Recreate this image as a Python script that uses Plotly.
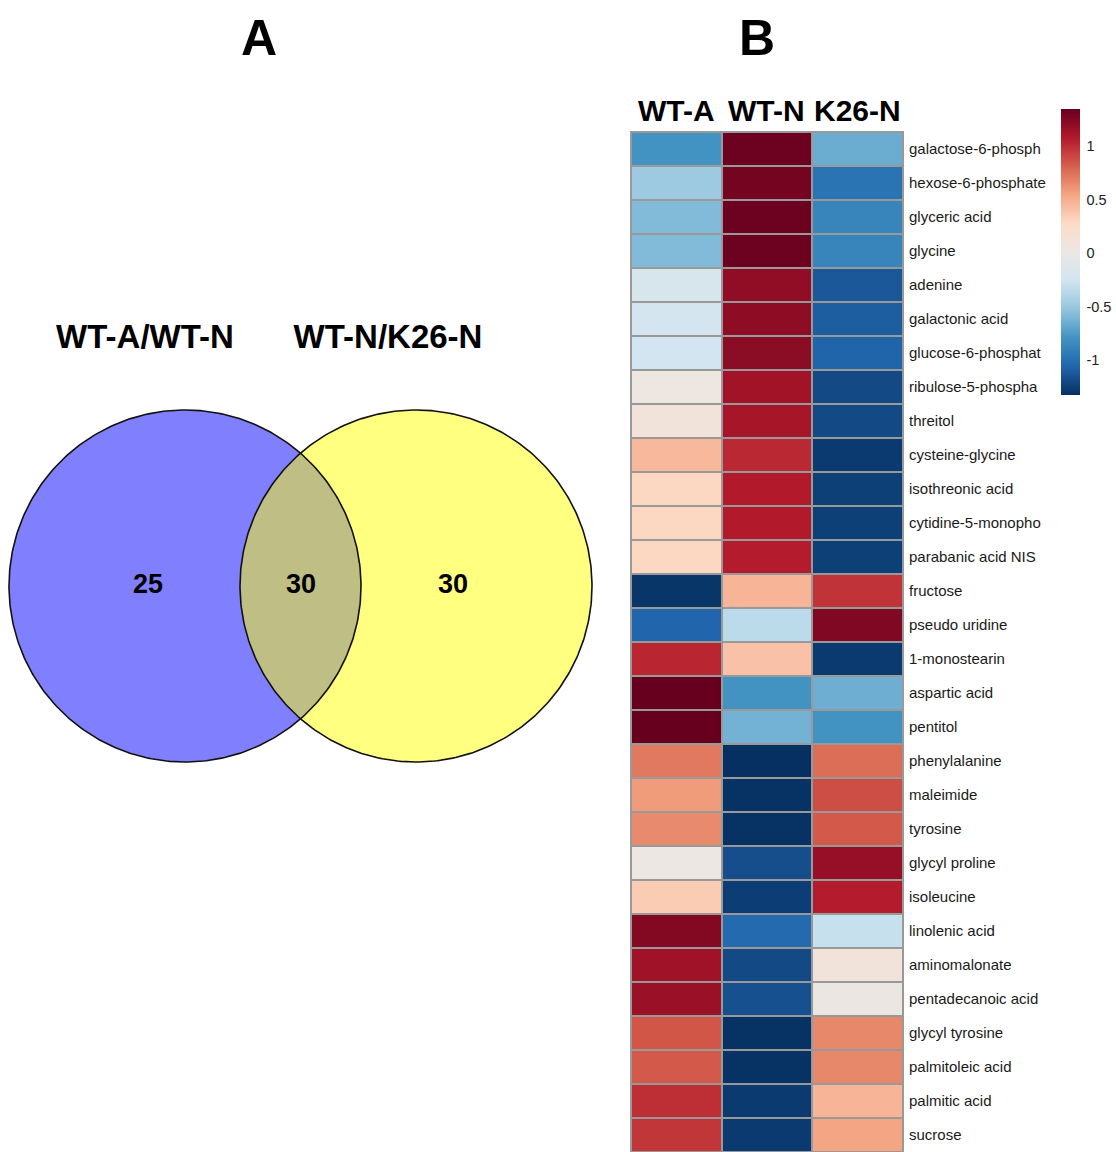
import numpy as np
import plotly.graph_objects as go

# ---------------- data ----------------
set_names = ["WT-A/WT-N", "WT-N/K26-N"]
count_left_only = 25
count_shared = 30
count_right_only = 30

samples = ["WT-A", "WT-N", "K26-N"]
metabolites = [
    "galactose-6-phosph", "hexose-6-phosphate", "glyceric acid", "glycine",
    "adenine", "galactonic acid", "glucose-6-phosphat", "ribulose-5-phospha",
    "threitol", "cysteine-glycine", "isothreonic acid", "cytidine-5-monopho",
    "parabanic acid NIS", "fructose", "pseudo uridine", "1-monostearin",
    "aspartic acid", "pentitol", "phenylalanine", "maleimide", "tyrosine",
    "glycyl proline", "isoleucine", "linolenic acid", "aminomalonate",
    "pentadecanoic acid", "glycyl tyrosine", "palmitoleic acid",
    "palmitic acid", "sucrose",
]
wt_a = [-0.80, -0.48, -0.58, -0.58, -0.20, -0.23, -0.25, 0.04, 0.10, 0.45,
        0.30, 0.30, 0.30, -1.30, -1.06, 1.03, 1.35, 1.35, 0.72, 0.58,
        0.65, 0.02, 0.35, 1.25, 1.15, 1.17, 0.85, 0.84, 1.00, 0.97]
wt_n = [1.33, 1.30, 1.33, 1.33, 1.20, 1.21, 1.22, 1.14, 1.12, 1.02,
        1.08, 1.08, 1.07, 0.47, -0.35, 0.40, -0.80, -0.63, -1.33, -1.32,
        -1.32, -1.18, -1.26, -1.04, -1.20, -1.17, -1.32, -1.32, -1.28, -1.28]
k26_n = [-0.66, -0.98, -0.88, -0.88, -1.13, -1.10, -1.07, -1.20, -1.20, -1.28,
         -1.25, -1.25, -1.25, 0.98, 1.26, -1.28, -0.65, -0.80, 0.76, 0.88,
         0.84, 1.18, 1.07, -0.30, 0.10, 0.03, 0.66, 0.66, 0.47, 0.54]

z_min, z_max = -1.33, 1.35
bar_ticks = [1, 0.5, 0, -0.5, -1]

# RdBu (11 classes), low values blue, high values red
rdbu = ["#053061", "#2166ac", "#4393c3", "#92c5de", "#d1e5f0", "#ebe7e4",
        "#fddbc7", "#f4a582", "#d6604d", "#b2182b", "#67001f"]
colorscale = [[i / (len(rdbu) - 1), c] for i, c in enumerate(rdbu)]

W, H = 1116, 1152
FONT = "Liberation Sans, Arial, sans-serif"

fig = go.Figure()

# ---------------- panel A: two-set Venn diagram ----------------
r = 176.0
c_left = (185.0, 586.0)
c_right = (416.0, 586.0)
theta = np.linspace(0, 2 * np.pi, 361)


def circle(c):
    return c[0] + r * np.cos(theta), c[1] + r * np.sin(theta)


d = c_right[0] - c_left[0]
phi = np.arccos(d / (2 * r))
arc_l = np.linspace(-phi, phi, 120)
arc_r = np.linspace(np.pi - phi, np.pi + phi, 120)
lens_x = np.concatenate([c_left[0] + r * np.cos(arc_l), c_right[0] + r * np.cos(arc_r)])
lens_y = np.concatenate([c_left[1] + r * np.sin(arc_l), c_right[1] + r * np.sin(arc_r)])

for c, col in [(c_left, "#8080ff"), (c_right, "#ffff80")]:
    x, y = circle(c)
    fig.add_trace(go.Scatter(x=x, y=y, mode="lines", fill="toself", fillcolor=col,
                             line=dict(width=0), hoverinfo="skip", showlegend=False,
                             xaxis="x", yaxis="y"))
fig.add_trace(go.Scatter(x=lens_x, y=lens_y, mode="lines", fill="toself",
                         fillcolor="#bfbe84", line=dict(width=0), hoverinfo="skip",
                         showlegend=False, xaxis="x", yaxis="y"))
for c in (c_left, c_right):
    x, y = circle(c)
    fig.add_trace(go.Scatter(x=x, y=y, mode="lines", line=dict(color="#111", width=1.6),
                             hoverinfo="skip", showlegend=False, xaxis="x", yaxis="y"))

fig.add_trace(go.Scatter(
    x=[148, 301, 453], y=[586, 586, 586], mode="text",
    text=[str(count_left_only), str(count_shared), str(count_right_only)],
    textfont=dict(family=FONT, size=27, color="#000", weight="bold"),
    hoverinfo="skip", showlegend=False, xaxis="x", yaxis="y"))

fig.add_trace(go.Scatter(
    x=[145, 388], y=[340, 340], mode="text", text=set_names,
    textfont=dict(family=FONT, size=33, color="#000", weight="bold"),
    hoverinfo="skip", showlegend=False, xaxis="x", yaxis="y"))

# ---------------- panel B: heatmap ----------------
z = [[a, n, k] for a, n, k in zip(wt_a, wt_n, k26_n)]
fig.add_trace(go.Heatmap(
    z=z, x=samples, y=metabolites, xaxis="x2", yaxis="y2",
    colorscale=colorscale, zmin=z_min, zmax=z_max, xgap=2, ygap=2,
    colorbar=dict(
        x=1061 / W, xanchor="left", y=1 - 109 / H, yanchor="top",
        lenmode="pixels", len=286, thickness=19, thicknessmode="pixels",
        outlinewidth=0, xpad=0, ypad=0, ticks="outside", ticklen=4,
        tickcolor="rgba(0,0,0,0)",
        tickvals=bar_ticks, ticktext=[str(t) for t in bar_ticks],
        tickfont=dict(family=FONT, size=14.5, color="#222"),
    ),
    hoverinfo="skip",
))

annotations = [
    dict(text="A", x=259 / W, y=1 - 38 / H, xref="paper", yref="paper",
         xanchor="center", yanchor="middle", showarrow=False,
         font=dict(family=FONT, size=50, color="#000", weight="bold")),
    dict(text="B", x=757 / W, y=1 - 38 / H, xref="paper", yref="paper",
         xanchor="center", yanchor="middle", showarrow=False,
         font=dict(family=FONT, size=50, color="#000", weight="bold")),
]
for s in samples:
    annotations.append(dict(text=s, x=s, xref="x2", y=1 - 110 / H, yref="paper",
                            xanchor="center", yanchor="middle", showarrow=False,
                            font=dict(family=FONT, size=30, color="#000", weight="bold")))

hm_x0, hm_x1 = 631 / W, 903 / W
hm_y0, hm_y1 = 0.0, 1 - 132 / H

fig.update_layout(
    width=W, height=H, margin=dict(l=0, r=0, t=0, b=0),
    paper_bgcolor="white", plot_bgcolor="white",
    xaxis=dict(domain=[0, 600 / W], range=[0, 600], visible=False, fixedrange=True),
    yaxis=dict(domain=[0, 1], range=[H, 0], visible=False, fixedrange=True),
    xaxis2=dict(domain=[hm_x0, hm_x1], anchor="y2", showticklabels=False, ticks="",
                showgrid=False, zeroline=False),
    yaxis2=dict(domain=[hm_y0, hm_y1], anchor="x2", side="right", autorange="reversed",
                ticks="", showgrid=False, zeroline=False, ticklabelstandoff=5,
                tickfont=dict(family=FONT, size=15, color="#1a1a1a")),
    annotations=annotations,
    shapes=[
        # grey backing that shows through the gaps between heatmap cells
        dict(type="rect", xref="x2 domain", yref="y2 domain", x0=0, x1=1, y0=0, y1=1,
             line=dict(width=0), fillcolor="#999999", layer="below"),
        dict(type="rect", xref="x2 domain", yref="y2 domain", x0=0, x1=1, y0=0, y1=1,
             line=dict(color="#999999", width=2), fillcolor="rgba(0,0,0,0)", layer="above"),
    ],
)

fig.write_html("out.html")
